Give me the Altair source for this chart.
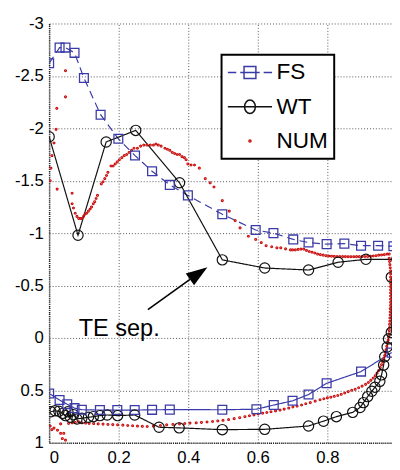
import altair as alt
import pandas as pd

SERIES = ["FS", "WT", "NUM"]
COLORS = ["#3a3aa8", "#111111", "#cc1111"]

# ---- FS (blue squares): upper surface dashed, lower surface solid
FS_UP_X = [0.0, 0.03, 0.047, 0.073, 0.1, 0.148, 0.199, 0.247, 0.296, 0.347, 0.399,
           0.498, 0.594, 0.645, 0.702, 0.746, 0.798, 0.849, 0.897, 0.946, 0.99]
FS_UP_Y = [-2.62, -2.77, -2.77, -2.72, -2.48, -2.13, -1.90, -1.74, -1.59, -1.46, -1.36,
           -1.18, -1.03, -1.0, -0.94, -0.91, -0.895, -0.90, -0.88, -0.88, -0.875]
FS_LO_X = [0.0, 0.03, 0.052, 0.073, 0.094, 0.146, 0.196, 0.246, 0.296, 0.347, 0.498,
           0.596, 0.646, 0.700, 0.746, 0.798, 0.897, 0.985]
FS_LO_Y = [0.53, 0.592, 0.633, 0.67, 0.685, 0.688, 0.688, 0.688, 0.686, 0.684, 0.685,
           0.68, 0.64, 0.60, 0.54, 0.433, 0.321, 0.14]

# ---- WT (black circles)
WT_UP_X = [0.0, 0.083, 0.164, 0.249, 0.375, 0.498, 0.62, 0.746, 0.831, 0.911, 1.0]
WT_UP_Y = [-1.92, -0.98, -1.87, -1.98, -1.48, -0.745, -0.667, -0.648, -0.722, -0.75, -0.75]
WT_LO_X = [0.005, 0.017, 0.028, 0.039, 0.047, 0.054, 0.061, 0.070, 0.080, 0.094, 0.113,
           0.127, 0.146, 0.167, 0.197, 0.246, 0.316, 0.374, 0.498, 0.62, 0.746, 0.789,
           0.826, 0.873, 0.894, 0.904, 0.916, 0.928, 0.937, 0.951, 0.956, 0.962, 0.965,
           0.972, 0.976, 0.984, 0.984]
WT_LO_Y = [0.704, 0.695, 0.70, 0.72, 0.741, 0.704, 0.757, 0.732, 0.773, 0.766, 0.757,
           0.751, 0.741, 0.735, 0.741, 0.735, 0.852, 0.858, 0.875, 0.872, 0.84, 0.794,
           0.751, 0.71, 0.664, 0.617, 0.56, 0.508, 0.47, 0.414, 0.352, 0.259, 0.18,
           0.087, 0.009, -0.053, -0.58]

# ---- NUM (red dots)
NUM_UP_X = [0.003, 0.005, 0.008, 0.014, 0.020, 0.022, 0.047, 0.047, 0.023, 0.066, 0.066,
            0.070, 0.075, 0.080, 0.085, 0.090, 0.094, 0.099, 0.103, 0.108, 0.113, 0.118,
            0.122, 0.127, 0.131, 0.135, 0.139, 0.150, 0.155, 0.160, 0.165, 0.169, 0.178,
            0.184, 0.190, 0.196, 0.202, 0.209, 0.216, 0.223, 0.230, 0.237, 0.244, 0.254,
            0.263, 0.272, 0.281, 0.291, 0.300, 0.307, 0.314, 0.322, 0.333, 0.340, 0.347,
            0.354, 0.361, 0.368, 0.375, 0.382, 0.389, 0.394, 0.399, 0.408, 0.418, 0.432,
            0.449, 0.463, 0.474, 0.498, 0.518, 0.535, 0.549, 0.573, 0.594, 0.610, 0.624,
            0.640, 0.655, 0.666, 0.680, 0.694,
            0.700, 0.708, 0.716, 0.724, 0.732, 0.740, 0.748, 0.756, 0.764, 0.772, 0.780,
            0.788, 0.796, 0.804, 0.812, 0.820, 0.828, 0.836, 0.844, 0.852, 0.860, 0.868,
            0.876, 0.884, 0.892, 0.900, 0.908, 0.916, 0.924, 0.932, 0.940, 0.948, 0.956,
            0.964, 0.972, 0.978]
NUM_UP_Y = [-1.50, -1.62, -1.74, -1.86, -1.99, -2.19, -2.55, -2.30, -1.42, -1.38, -1.28,
            -1.24, -1.19, -1.16, -1.14, -1.14, -1.14, -1.16, -1.18, -1.19, -1.21, -1.23,
            -1.25, -1.28, -1.30, -1.33, -1.36, -1.47, -1.49, -1.52, -1.55, -1.58, -1.64,
            -1.64, -1.66, -1.68, -1.70, -1.72, -1.74, -1.75, -1.77, -1.79, -1.81, -1.81,
            -1.83, -1.84, -1.84, -1.84, -1.84, -1.85, -1.84, -1.83, -1.81, -1.80, -1.79,
            -1.77, -1.76, -1.75, -1.75, -1.73, -1.72, -1.70, -1.66, -1.65, -1.65, -1.62,
            -1.52, -1.48, -1.44, -1.31, -1.21, -1.12, -1.05, -0.97, -0.94, -0.91, -0.88,
            -0.87, -0.86, -0.86, -0.85, -0.84,
            -0.84, -0.84, -0.845, -0.848, -0.848, -0.835, -0.825, -0.818, -0.81, -0.80,
            -0.795, -0.79, -0.785, -0.782, -0.78, -0.778, -0.777, -0.776, -0.776, -0.776,
            -0.775, -0.775, -0.775, -0.776, -0.776, -0.776, -0.777, -0.778, -0.78, -0.782,
            -0.785, -0.79, -0.792, -0.795, -0.80, -0.80]
NUM_LO_X = [0.003, 0.008, 0.014, 0.024, 0.033, 0.033, 0.038, 0.042, 0.047,
            0.056, 0.066, 0.075, 0.085, 0.094, 0.105, 0.115, 0.128, 0.141, 0.155, 0.169,
            0.183, 0.197, 0.212, 0.226, 0.240, 0.254, 0.268, 0.282, 0.300, 0.320, 0.338,
            0.356, 0.375, 0.390, 0.405, 0.423, 0.438, 0.454, 0.470, 0.485, 0.500, 0.516,
            0.532, 0.548, 0.563, 0.576, 0.589, 0.601, 0.614, 0.626, 0.638, 0.651, 0.664,
            0.676, 0.689, 0.701, 0.713, 0.726, 0.738, 0.751, 0.765, 0.779, 0.790, 0.800,
            0.810, 0.820, 0.830, 0.840, 0.850, 0.860, 0.870, 0.880, 0.890, 0.900, 0.910,
            0.918, 0.925, 0.932, 0.938, 0.943, 0.948, 0.952, 0.956, 0.959, 0.962, 0.965,
            0.967, 0.969, 0.971, 0.973, 0.975, 0.976,
            0.977, 0.978, 0.979, 0.979, 0.980, 0.980, 0.981, 0.981, 0.981, 0.982, 0.982,
            0.982, 0.982, 0.982, 0.982, 0.982, 0.982, 0.982, 0.982, 0.982, 0.982, 0.981,
            0.980, 0.979, 0.978]
NUM_LO_Y = [0.84, 0.875, 0.86, 0.88, 0.82, 0.91, 0.96, 0.91, 0.975,
            0.815, 0.81, 0.806, 0.80, 0.81, 0.812, 0.815, 0.817, 0.82, 0.822, 0.825,
            0.827, 0.829, 0.832, 0.835, 0.838, 0.841, 0.843, 0.845, 0.842, 0.835, 0.829,
            0.825, 0.82, 0.816, 0.812, 0.81, 0.806, 0.802, 0.797, 0.792, 0.786, 0.779,
            0.77, 0.761, 0.751, 0.742, 0.734, 0.726, 0.718, 0.711, 0.704, 0.696, 0.688,
            0.679, 0.669, 0.659, 0.65, 0.64, 0.628, 0.617, 0.603, 0.59, 0.58, 0.572,
            0.565, 0.557, 0.549, 0.538, 0.525, 0.512, 0.499, 0.49, 0.475, 0.46, 0.443,
            0.425, 0.405, 0.383, 0.36, 0.336, 0.31, 0.283, 0.255, 0.226, 0.197, 0.168,
            0.139, 0.11, 0.08, 0.05, 0.02, -0.01,
            -0.04, -0.07, -0.10, -0.13, -0.16, -0.19, -0.22, -0.25, -0.28, -0.31, -0.34,
            -0.37, -0.40, -0.43, -0.46, -0.49, -0.52, -0.55, -0.58, -0.61, -0.64, -0.67,
            -0.70, -0.73, -0.76]

# ---- axes
X_TICKS = [0, 0.2, 0.4, 0.6, 0.8]
Y_TICKS = [-3, -2.5, -2, -1.5, -1, -0.5, 0, 0.5, 1]
X_DOMAIN = [0, 0.986]
Y_DOMAIN = [-3, 1]

# ---- annotation
NOTE_TEXT = ["TE sep."]
NOTE_X = [0.085]
NOTE_Y = [-0.016]
ARROW_X = [0.284, 0.405]
ARROW_Y = [-0.271, -0.559]
HEAD_X = [0.430]
HEAD_Y = [-0.617]

# legend symbol paths (line + marker), drawn at half-size 11 px per unit
LEG_PATHS = [
    "M-2.05,0H-1.27M-0.9,0H0.9M1.27,0H2.05M-0.55,-0.55H0.55V0.55H-0.55Z",
    "M-2.05,0H2.05M-0.5,0A0.5,0.62 0 1,0 0.5,0A0.5,0.62 0 1,0 -0.5,0",
    "M-0.1,0A0.1,0.1 0 1,0 0.1,0A0.1,0.1 0 1,0 -0.1,0",
]

# ---- tables
line_rows = []
def add_line(series, surf, dash, xs, ys):
    for i, (a, b) in enumerate(zip(xs, ys)):
        line_rows.append({"series": series, "key": series + surf, "dash": dash,
                          "i": i, "x": a, "cp": b})

add_line("FS", "up", "dash", FS_UP_X, FS_UP_Y)
add_line("FS", "lo", "solid", FS_LO_X, FS_LO_Y)
add_line("WT", "up", "solid", WT_UP_X, WT_UP_Y)
add_line("WT", "lo", "solid", WT_LO_X, WT_LO_Y)
lines_df = pd.DataFrame(line_rows)

num_df = pd.DataFrame({"series": "NUM", "x": NUM_UP_X + NUM_LO_X, "cp": NUM_UP_Y + NUM_LO_Y})
fs_df = lines_df[lines_df.series == "FS"]
wt_df = lines_df[lines_df.series == "WT"]

color_scale = alt.Scale(domain=SERIES, range=COLORS)
leg = alt.Legend(title=None, orient="none", legendX=176, legendY=32,
                 fillColor="white", strokeColor="black", padding=6, rowPadding=11,
                 labelFontSize=23, labelFont="Liberation Sans", labelColor="black",
                 symbolSize=484, symbolStrokeWidth=1.5, labelOffset=15,
                 symbolOffset=11, cornerRadius=0)

X = alt.X("x:Q", scale=alt.Scale(domain=X_DOMAIN, nice=False, zero=False),
          axis=alt.Axis(title=None, values=X_TICKS, labelExpr="toString(datum.value)",
                        labelPadding=7))
Y = alt.Y("cp:Q", scale=alt.Scale(domain=Y_DOMAIN, reverse=True, nice=False, zero=False),
          axis=alt.Axis(title=None, values=Y_TICKS, labelExpr="toString(datum.value)",
                        labelPadding=6, minExtent=42))
C = alt.Color("series:N", scale=color_scale, legend=leg)

lines = alt.Chart(lines_df).mark_line(strokeWidth=1.2, clip=True).encode(
    x=X, y=Y, color=C, detail="key:N", order="i:Q",
    strokeDash=alt.StrokeDash("dash:N", scale=alt.Scale(domain=["dash", "solid"],
                                                        range=[[8, 5], [1, 0]]),
                              legend=None),
)
num_pts = alt.Chart(num_df).mark_point(shape="circle", size=1.5, strokeWidth=1.9,
                                       filled=False, clip=True, opacity=1).encode(x=X, y=Y, color=C)
fs_pts = alt.Chart(fs_df).mark_point(shape="square", size=81, strokeWidth=1.3,
                                     filled=False, clip=True, opacity=1).encode(x=X, y=Y, color=C)
wt_pts = alt.Chart(wt_df).mark_point(shape="circle", size=110, strokeWidth=1.2,
                                     filled=False, clip=True, opacity=1).encode(x=X, y=Y, color=C)

legend_layer = alt.Chart(pd.DataFrame({"series": SERIES})).transform_filter(
    "false").mark_point(filled=False, strokeWidth=1.5).encode(
    x=alt.value(0), y=alt.value(0), color=C,
    shape=alt.Shape("series:N", scale=alt.Scale(domain=SERIES, range=LEG_PATHS), legend=leg),
)

note_df = pd.DataFrame({"t": NOTE_TEXT, "x": NOTE_X, "cp": NOTE_Y})
note = alt.Chart(note_df).mark_text(align="left", baseline="alphabetic", fontSize=24,
                                     font="Liberation Sans", color="black").encode(
    x=alt.X("x:Q"), y=alt.Y("cp:Q"), text="t:N")
arrow_df = pd.DataFrame({"x": ARROW_X, "cp": ARROW_Y})
shaft = alt.Chart(arrow_df).mark_line(color="black", strokeWidth=1.6).encode(
    x=alt.X("x:Q"), y=alt.Y("cp:Q"))
head_df = pd.DataFrame({"x": HEAD_X, "cp": HEAD_Y})
head = alt.Chart(head_df).mark_point(shape="M0,-1L0.68,1L-0.68,1Z", size=475, angle=55,
                                     filled=True, color="black", opacity=1).encode(
    x=alt.X("x:Q"), y=alt.Y("cp:Q"))

chart = alt.layer(lines, num_pts, wt_pts, fs_pts, legend_layer, shaft, head, note).properties(
    width=350, height=428,
    padding={"left": 0, "right": 0, "top": 2, "bottom": 0},
).configure_axis(
    labelFont="Liberation Sans", labelFontSize=17, labelColor="black",
    grid=True, gridColor="#555555", gridDash=[1, 2], gridWidth=1,
    domainColor="#222222", domainDash=[1, 1], domainWidth=1.6, ticks=False,
).configure_view(strokeWidth=0).configure_legend(strokeWidth=2)

chart.save("out.html", embed_options={"renderer": "svg", "actions": False})
